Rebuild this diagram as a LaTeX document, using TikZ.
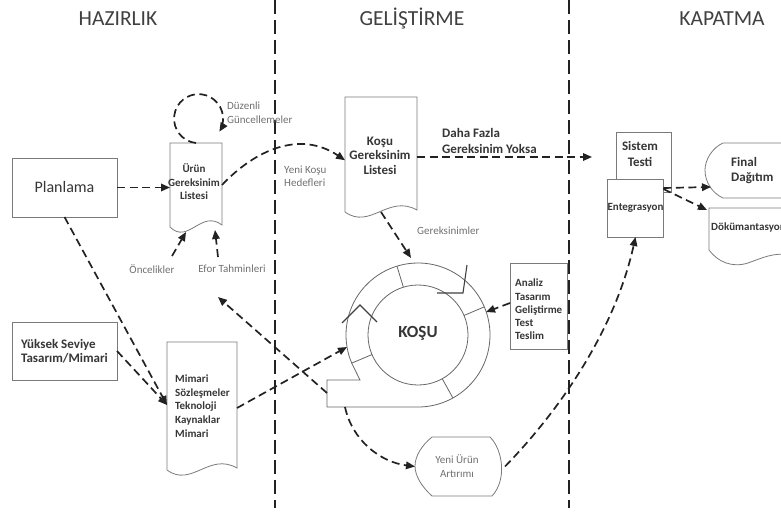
\documentclass[tikz,border=0pt]{standalone}
\usepackage{fontspec}
\setmainfont{Carlito}
\usetikzlibrary{arrows.meta,calc}
\definecolor{ink}{HTML}{222222}
\definecolor{txt}{HTML}{363636}
\definecolor{lblc}{HTML}{707070}
\definecolor{frame}{HTML}{7A7A7A}
\definecolor{ttl}{HTML}{404040}
\newcommand{\docshape}[1]{%
  \draw[shapeline] let \p1=(#1.south west), \p2=(#1.north east), \n1={\x2-\x1} in
  (\p1) -- (\x1,\y2) -- (\p2) -- (\x2,\y1+2pt)
  .. controls (\x1+0.6*\n1,\y1+18pt) and (\x1+0.35*\n1,\y1-18pt) .. (\p1);}
\begin{document}
\begin{tikzpicture}[x=1pt,y=-1pt,
  conn/.style={draw=ink, line width=1.7pt, dash pattern=on 8pt off 4.5pt,
    -{Triangle[length=9pt,width=7.5pt]}},
  divider/.style={draw=ink, line width=2pt, dash pattern=on 14pt off 6pt},
  shapeline/.style={draw=frame, line width=0.8pt},
  ringline/.style={draw=black!60, line width=0.8pt},
  box/.style={shapeline, fill=white, inner sep=0pt, outer sep=0pt},
  docnode/.style={inner sep=0pt, outer sep=0pt},
  title/.style={font=\fontsize{21.5}{24}\selectfont, text=ttl},
  btxt/.style={font=\bfseries\fontsize{11}{13.5}\selectfont, text=txt, inner sep=0pt},
  bbig/.style={font=\bfseries\fontsize{13}{14.5}\selectfont, text=txt, inner sep=0pt},
  lbl/.style={font=\fontsize{11}{13.5}\selectfont, text=lblc, inner sep=0pt}
]
\useasboundingbox (0,0) rectangle (781,514);
\clip (0,0) rectangle (781,514);

% titles
\node[title] (t1) at (118,19) {HAZIRLIK};
\node[title] (t2) at (412,19) {GELİŞTİRME};
\node[title] (t3) at (722,19) {KAPATMA};

% phase dividers
\coordinate (d1a) at (275,0); \coordinate (d1b) at (275,508);
\coordinate (d2a) at (569,0); \coordinate (d2b) at (569,508);
\draw[divider] (d1a) -- (d1b);
\draw[divider] (d2a) -- (d2b);

% boxes
\node[box, minimum width=105pt, minimum height=59pt,
  font=\fontsize{16}{18}\selectfont, text=txt] (plan) at (64.5,187.5) {Planlama};
\node[box, minimum width=105pt, minimum height=58pt, align=left,
  font=\bfseries\fontsize{13}{14}\selectfont, text=txt] (yuk) at (64.5,351) {Yüksek Seviye\\Tasarım/Mimari};

% documents
\node[docnode, minimum width=52pt, minimum height=84pt] (uen) at (196,185) {};
\docshape{uen}
\node[btxt, align=center] (uentxt) at (194,182) {Ürün\\Gereksinim\\Listesi};

\node[docnode, minimum width=72pt, minimum height=115pt] (kgl) at (381,154.5) {};
\docshape{kgl}
\node[bbig, align=center] (kgltxt) at (380,155.5) {Koşu\\Gereksinim\\Listesi};

\node[docnode, minimum width=70pt, minimum height=128pt] (mim) at (202,406) {};
\docshape{mim}
\node[btxt, align=left, anchor=west, font=\bfseries\fontsize{11}{13.7}\selectfont] (mimtxt) at (175,406)
  {Mimari\\Sözleşmeler\\Teknoloji\\Kaynaklar\\Mimari};

% analysis box
\node[box, minimum width=57pt, minimum height=86pt] (anl) at (538.5,306) {};
\node[btxt, align=left, anchor=west, font=\bfseries\fontsize{11}{13.3}\selectfont] (anltxt) at (515,309.5)
  {Analiz\\Tasarım\\Geliştirme\\Test\\Teslim};

% closing boxes
\node[box, minimum width=55pt, minimum height=60pt] (sis) at (643.5,162) {};
\node[bbig, align=center, font=\bfseries\fontsize{13}{16}\selectfont] (sistxt) at (640,154) {Sistem\\Testi};
\node[box, minimum width=55pt, minimum height=58pt, btxt] (enteg) at (635.5,208) {Entegrasyon};

% final dagitim
\draw[shapeline] (790,143) -- (723,143) .. controls (712,148) and (705,160) .. (705,170)
  .. controls (705,182) and (712,193) .. (723,198) -- (790,198);
\node[bbig, align=left, anchor=west, font=\bfseries\fontsize{13}{15}\selectfont] (final) at (731,171) {Final\\Dağıtım};

% dokumantasyon
\draw[shapeline] (790,208) -- (709,208) -- (709,250) .. controls (718,262) and (732,268) .. (748,263)
  .. controls (762,258) and (774,252) .. (790,255);
\node[btxt, anchor=west] (dok) at (711,228) {Dökümantasyon};

% yeni urun artirimi
\node[docnode, minimum width=90pt, minimum height=59pt] (yeni) at (460,466.5) {};
\draw[shapeline] (432,437) -- (490,437) .. controls (503,450) and (507,480) .. (492,496)
  -- (432,496) .. controls (422,487) and (415,476) .. (415,466) .. controls (415,456) and (422,445) .. (432,437);
\node[lbl, align=center] (yenitxt) at (457,466) {Yeni Ürün\\Artırımı};

% sprint ring
\node[docnode, circle, minimum size=144pt] (ring) at (418,335) {};
\draw[ringline] (ring.center) circle[radius=50];
\draw[ringline] ($(ring.center)+(0,72)$) arc[start angle=90, end angle=-203, radius=72]
  -- (360,380) -- (327,380) -- (327,407) -- cycle;
\foreach \a in {107,23,-61,203}
  \draw[ringline] ($(ring.center)+(-\a:50)$) -- ($(ring.center)+(-\a:72)$);
\draw[draw=black!75, line width=1.1pt] (437,293) -- (463,293) -- (467,265);
\draw[draw=black!75, line width=1.1pt] (342,323) -- (360,305) -- (377,322);
\node[font=\bfseries\fontsize{17}{18}\selectfont, text=txt] (kosu) at (418,333) {KOŞU};

% labels
\node[lbl, align=left, anchor=west] (duz) at (227,112.5) {Düzenli\\Güncellemeler};
\node[lbl, align=left, anchor=west] (ykh) at (284,176.5) {Yeni Koşu\\Hedefleri};
\node[lbl] (onc) at (152,269) {Öncelikler};
\node[lbl] (efor) at (232,269) {Efor Tahminleri};
\node[lbl, anchor=west] (ger) at (417,231) {Gereksinimler};
\node[bbig, align=left, anchor=west, font=\bfseries\fontsize{13}{15.5}\selectfont] (daha) at (442,141) {Daha Fazla\\Gereksinim Yoksa};

% coordinates for free ends
\coordinate (oncS) at (172,256);
\coordinate (eforS) at (218,257);
\coordinate (dfEnd) at (592,157);
\coordinate (rgN) at (411,258);
\coordinate (rgE) at (486,312);
\coordinate (rgW) at (347,347);
\coordinate (tailL) at (327,393);
\coordinate (tailB) at (345,407);
\coordinate (backEnd) at (218,297);
\coordinate (finA) at (711,187);
\coordinate (dokA) at (707,210);
\coordinate (mimIn) at (167,405);

% connectors
\draw[conn] (plan.east) -- (plan.east -| uen.west);
\draw[conn] (uen.north) arc[start angle=96, end angle=392, radius=24.5];
\draw[conn] (uen.east) .. controls (255,150) and (300,130) .. ($(kgl.north west)!0.55!(kgl.south west)$);
\draw[conn] (oncS) -- ($(uen.south)+(-10,5)$);
\draw[conn] (eforS) -- ($(uen.south)+(19,3)$);
\draw[conn] (kgl.east |- dfEnd) -- (dfEnd);
\draw[conn] (kgl.south) -- (rgN);
\draw[conn] ($(anl.west)+(0,-3)$) -- (rgE);
\draw[conn] (plan.south) ++(0,0) -- (mimIn);
\draw[conn] (yuk.east) -- (mimIn);
\draw[conn] ($(mim.east)+(0,2)$) -- (rgW);
\draw[conn] (tailL) -- (backEnd);
\draw[conn] (tailB) .. controls (352,440) and (380,462) .. (yeni.west);
\draw[conn] (yeni.east) .. controls (560,410) and (615,330) .. (enteg.south);
\draw[conn] ($(enteg.north east)+(0,9)$) -- (finA);
\draw[conn] ($(enteg.north east)+(0,10)$) -- (dokA);
\end{tikzpicture}
\end{document}
